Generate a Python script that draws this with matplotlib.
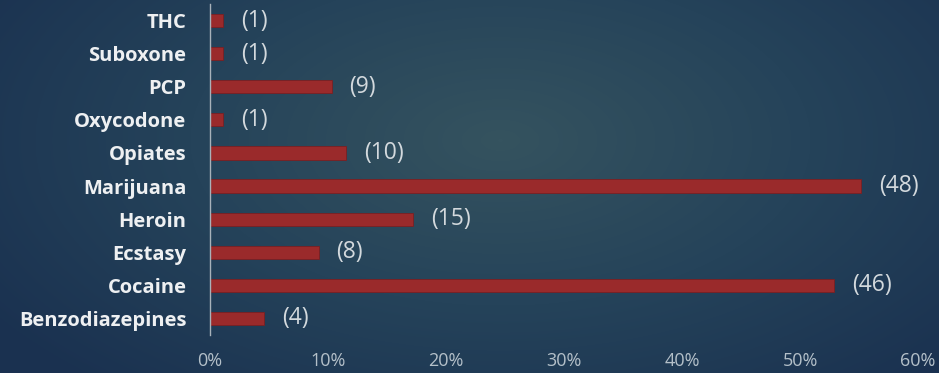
import numpy as np
import matplotlib
matplotlib.use("Agg")
import matplotlib.pyplot as plt
from matplotlib.colors import LinearSegmentedColormap

categories = ["THC", "Suboxone", "PCP", "Oxycodone", "Opiates", "Marijuana",
              "Heroin", "Ecstasy", "Cocaine", "Benzodiazepines"]
percent = [1.1, 1.1, 10.3, 1.1, 11.5, 55.2, 17.2, 9.2, 52.9, 4.6]
counts = [1, 1, 9, 1, 10, 48, 15, 8, 46, 4]
xticks = [0, 10, 20, 30, 40, 50, 60]
xticklabels = ["0%", "10%", "20%", "30%", "40%", "50%", "60%"]

W, H = 939, 373
fig = plt.figure(figsize=(W / 100, H / 100), dpi=100)

# background radial gradient
bg = fig.add_axes([0, 0, 1, 1])
yy, xx = np.mgrid[0:H, 0:W]
cx, cy = 500, 140
r = np.sqrt(((xx - cx) / 620.0) ** 2 + ((yy - cy) / 330.0) ** 2)
r = np.clip(r, 0, 1)
cmap = LinearSegmentedColormap.from_list("bg", ["#35535f", "#25435a", "#1a3150"])
bg.imshow(r, cmap=cmap, aspect="auto", extent=[0, 1, 0, 1], vmin=0, vmax=1)
bg.axis("off")

ax = fig.add_axes([210 / W, 38 / H, 708 / W, 331 / H])
ax.set_facecolor("none")
y = np.arange(len(categories))[::-1]
ax.barh(y, percent, height=0.4, color="#9a2a2b", edgecolor="#7a1f22", linewidth=0.6)
for yi, p, c in zip(y, percent, counts):
    ax.annotate(f"({c})", (p, yi), xytext=(13, 0), textcoords="offset points",
                va="center", ha="left", color="#d3d9dd", fontsize=16.5,
                family=["Open Sans", "DejaVu Sans"])
ax.set_xlim(0, 60)
ax.set_ylim(-0.5, len(categories) - 0.5)
ax.set_yticks(y)
ax.set_yticklabels(categories, fontsize=14.5, fontweight="bold", color="#eef0f2",
                   family=["Open Sans", "DejaVu Sans"])
ax.set_xticks(xticks)
ax.set_xticklabels(xticklabels, fontsize=13, color="#b4c0c9",
                   family=["Open Sans", "DejaVu Sans"])
ax.tick_params(axis="both", length=0)
ax.tick_params(axis="x", pad=12)
ax.tick_params(axis="y", pad=17)
for s in ["top", "right", "bottom"]:
    ax.spines[s].set_visible(False)
ax.spines["left"].set_color("#a8b2ba")
ax.spines["left"].set_linewidth(1.0)

fig.savefig("out.png", dpi=100)
